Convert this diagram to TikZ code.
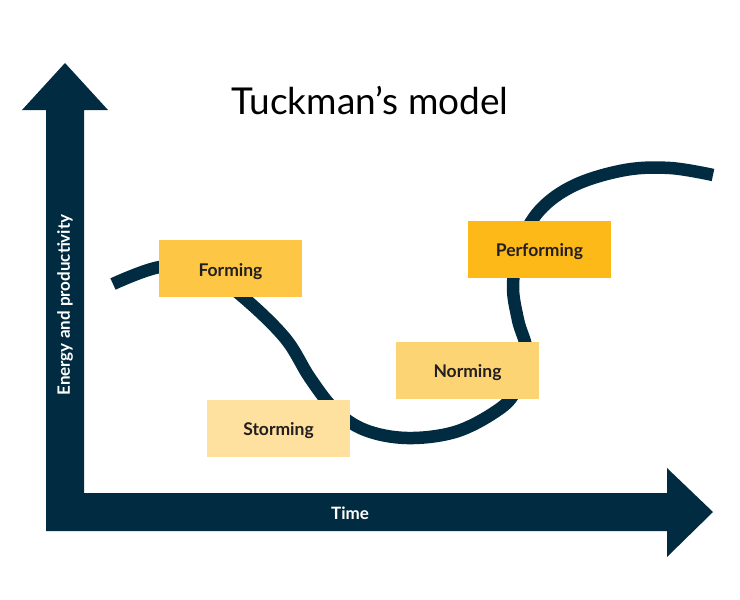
\documentclass[tikz,border=0pt]{standalone}
\usepackage{fontspec}
\setmainfont{Lato}

\definecolor{ink}{RGB}{1,43,64}
\definecolor{formcol}{RGB}{253,199,69}
\definecolor{stormcol}{RGB}{254,224,159}
\definecolor{normcol}{RGB}{253,212,116}
\definecolor{perfcol}{RGB}{252,185,23}
\definecolor{labeltext}{RGB}{35,31,32}

\begin{document}
\begin{tikzpicture}[x=1pt, y=-1pt,
    stage/.style={rectangle, minimum width=143pt, minimum height=57pt, inner sep=0pt,
      text height=15.6pt, text depth=0pt,
      text=labeltext, font=\bfseries\fontsize{17.5}{19}\selectfont},
    axislabel/.style={text=white, font=\bfseries\fontsize{17}{19}\selectfont}]
    \useasboundingbox (0, 0) rectangle (740, 600);

    % axes
    \fill[ink] (46, 531) -- (46, 110) -- (22, 110) -- (65, 63) -- (108, 110) -- (84, 110)
      -- (84, 493) -- (667, 493) -- (667, 468) -- (713, 512) -- (667, 557) -- (667, 531) -- cycle;

    \node[axislabel](time) at (350, 513){Time};
    \node[axislabel, rotate=90](energy) at (65, 305){Energy and productivity};

    \node[font=\fontsize{37}{42}\selectfont](title) at (370, 101){Tuckman’s model};

    % curve
    \draw[ink, line width=12.5pt] plot[smooth, tension=0.6] coordinates {
      (113, 284) (160, 267) (205, 270) (243, 297) (285, 338) (310, 378) (335, 410)
      (365, 430) (407, 438) (455, 432) (495, 412) (515, 392) (527, 355) (518, 320)
      (513, 285) (520, 245) (540, 210) (575, 185) (625, 170) (670, 168) (713, 175)};

    \node[stage, fill=formcol](forming) at (230.5, 268.5){Forming};
    \node[stage, fill=stormcol](storming) at (278.5, 428){Storming};
    \node[stage, fill=normcol](norming) at (467.5, 370){Norming};
    \node[stage, fill=perfcol](performing) at (539.5, 249){Performing};
\end{tikzpicture}
\end{document}
